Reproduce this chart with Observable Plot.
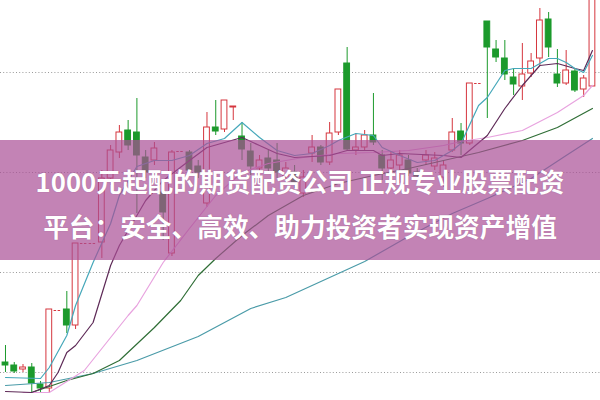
<!DOCTYPE html>
<html><head><meta charset="utf-8">
<script src="https://cdn.jsdelivr.net/npm/d3@7"></script>
<script src="https://cdn.jsdelivr.net/npm/@observablehq/plot@0.6"></script>
<style>
html,body{margin:0;padding:0;background:#fff;}
#wrap{position:relative;width:600px;height:400px;overflow:hidden;}
#banner{position:absolute;left:0;top:140px;width:600px;height:120px;box-sizing:border-box;padding-top:6px;background:rgba(170,78,150,0.7);display:flex;flex-direction:column;align-items:center;justify-content:center;color:#fff;font-family:"Noto Sans CJK SC","Noto Sans",sans-serif;font-weight:700;font-size:25.7px;line-height:45px;white-space:nowrap;text-shadow:0 0 1px rgba(90,40,80,0.4);}
</style></head><body>
<div id="wrap"><div id="chart"></div>
<div id="banner"><div id="t1"></div><div id="t2"></div></div></div>
<script>
// ---- data (prices) ----
const titleLine1 = "1000元起配的期货配资公司 正规专业股票配资";
const titleLine2 = "平台：安全、高效、助力投资者实现资产增值";
const gridVals = [28, 128, 228, 328];

const openP  = [38,35,31,33,16,12,90,91,75,157,157,158,222,248,270,268,243,240,208,147,249,248,234,197,273,271,293,264,249,232,242,240,224,228,207,247,253,238,268,337,250,253,265,245,232,235,240,228,240,234,223,250,269,257,317,379,351,342,323,314,327,342,381,326,317,329,311,314];
const closeP = [35,29,33,17,12,91,90,75,157,157,157,222,250,268,255,245,228,252,188,248,249,230,228,273,269,300,293,251,234,240,232,228,232,218,223,253,238,267,311,251,253,265,258,232,240,245,227,224,245,242,235,268,257,317,317,353,343,326,316,326,339,380,353,317,330,310,322,410];
const highP  = [55,38,36,37,19,91,90,109,157,157,157,230,255,275,280,302,250,258,220,250,249,250,240,288,300,300,293,278,257,245,250,257,238,235,230,265,255,278,311,353,267,270,307,250,248,250,245,232,250,248,240,282,277,317,317,379,360,360,332,357,347,392,388,351,350,332,325,410];
const lowP   = [28,27,28,7,8,7,90,67,71,157,157,142,215,242,250,187,222,235,160,144,249,224,222,193,265,268,280,240,225,228,228,222,220,212,203,238,235,235,265,250,245,250,255,220,228,217,224,220,235,230,213,248,245,255,317,282,338,320,305,300,323,335,343,313,315,308,303,314];

const ma5  = [[0,23],[4,22],[5,33],[7,65],[8,95],[10,138],[12,177],[13,205],[15,234],[17,240],[19,240],[21,245],[23,257],[25,262],[27,278],[29,263],[31,250],[33,245],[35,247],[37,255],[38,260],[40,267],[42,265],[43,253],[45,245],[47,238],[49,240],[51,250],[52,257],[54,295],[55,303],[57,330],[58,332],[60,332],[62,342],[63,342],[64,338],[65,332],[66,328],[67,345]];
const ma10 = [[0,9],[3,8],[5,15],[6,28],[7,48],[8,55],[10,78],[12,135],[13,155],[15,185],[16,200],[18,220],[21,240],[23,253],[27,263],[29,255],[31,247],[33,243],[37,245],[39,250],[42,250],[43,245],[45,247],[50,245],[52,243],[55,265],[57,292],[59,315],[61,335],[63,337],[65,332],[66,330],[67,350]];
const ma20 = [[2,8],[5,8],[9,30],[14,85],[15,95],[18,138],[21,172],[24,205],[27,228],[30,237],[34,243],[38,247],[42,248],[46,250],[50,255],[52,259],[55,263],[59,270],[63,288],[66,305],[67,315]];
const ma30 = [[3,8],[7,20],[10,27],[13,40],[17,73],[20,100],[22,125],[24,142],[27,165],[30,185],[34,205],[38,217],[42,225],[46,232],[50,240],[54,248],[59,260],[63,273],[67,292]];
const ma60 = [[0,15],[5,18],[10,27],[15,40],[22,64],[28,92],[32,103],[37,123],[41,139],[46,164],[51,187],[55,202],[60,222],[64,245],[67,262]];

// ---- build ----
document.getElementById("t1").textContent = titleLine1;
document.getElementById("t2").textContent = titleLine2;

const RED = "#d5363e", GREEN = "#1c9a2c";
const candles = openP.map((o, i) => ({i, o, c: closeP[i], h: highP[i], l: lowP[i]}));
const up = d => d.c >= d.o;
const onePrice = d => d.o === d.c && d.h === d.l && d.h === d.o;
const bodies = candles.filter(d => !onePrice(d));
const dashes = candles.filter(onePrice);
const pts = a => a.map(([i, v]) => ({i, v}));

const chart = Plot.plot({
  width: 600, height: 400,
  marginTop: 0, marginRight: 0, marginBottom: 0, marginLeft: 0,
  x: {domain: [-0.57, 67.92], axis: null},
  y: {domain: [0, 400], axis: null},
  color: {type: "identity"},
  style: {background: "#fff"},
  marks: [
    Plot.ruleY(gridVals, {stroke: "#9a9a9a", strokeDasharray: "1,2.2", strokeWidth: 1}),
    Plot.ruleX(bodies, {x: "i", y1: "l", y2: "h", stroke: d => up(d) ? RED : GREEN, strokeWidth: 1, clip: true}),
    Plot.rect(bodies, {
      x1: d => d.i - 0.33, x2: d => d.i + 0.33,
      y1: d => Math.min(d.o, d.c),
      y2: d => Math.max(d.o, d.c, Math.min(d.o, d.c) + 1),
      fill: d => up(d) ? "#fff" : GREEN,
      stroke: d => up(d) ? RED : GREEN, strokeWidth: 1, clip: true
    }),
    Plot.ruleY(dashes, {y: "o", x1: d => d.i - 0.45, x2: d => d.i + 0.45, stroke: RED, strokeDasharray: "2.5,1.5", strokeWidth: 1}),
    Plot.line(pts(ma60), {x: "i", y: "v", stroke: "#4a9ba8", strokeWidth: 1.2}),
    Plot.line(pts(ma30), {x: "i", y: "v", stroke: "#2f6e36", strokeWidth: 1.2}),
    Plot.line(pts(ma20), {x: "i", y: "v", stroke: "#e8a3df", strokeWidth: 1.2}),
    Plot.line(pts(ma10), {x: "i", y: "v", stroke: "#5e2a57", strokeWidth: 1.2}),
    Plot.line(pts(ma5),  {x: "i", y: "v", stroke: "#46a8ba", strokeWidth: 1.2, clip: true})
  ]
});
document.getElementById("chart").appendChild(chart);
</script>
</body></html>
